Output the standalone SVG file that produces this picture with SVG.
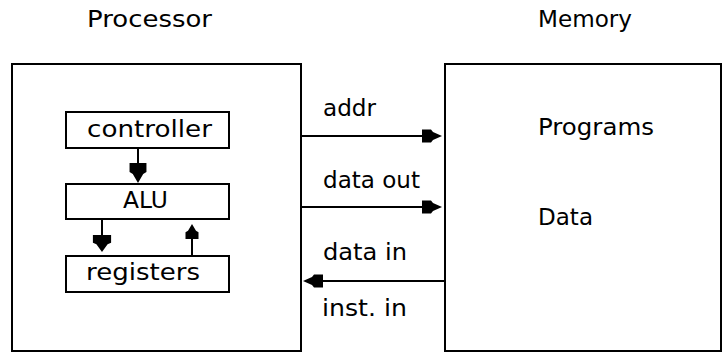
<svg xmlns="http://www.w3.org/2000/svg" width="722" height="353" viewBox="0 0 722 353">
<style>
.box{fill:none;stroke:#000;stroke-width:2}
.ln{fill:none;stroke:#000;stroke-width:2}
.hd{fill:#000;stroke:none}
text{font-family:"DejaVu Sans","Liberation Sans",sans-serif;font-size:23px;fill:#000}
</style>
<defs>
<path id="ah" d="M0,0 L-9,-4 L-11,-6.5 L-20,-6.5 L-20,6.5 L-11,6.5 L-9,4 Z"/>
</defs>
<rect width="722" height="353" fill="#fff"/>
<g id="processor">
<rect class="box" x="12" y="64" width="289" height="287"/>
<text x="87" y="27" textLength="125" lengthAdjust="spacingAndGlyphs">Processor</text>
</g>
<g id="memory">
<rect class="box" x="445" y="64" width="276" height="287"/>
<text x="538" y="27" textLength="94" lengthAdjust="spacingAndGlyphs">Memory</text>
<text x="538" y="135" textLength="116" lengthAdjust="spacingAndGlyphs">Programs</text>
<text x="538" y="225" textLength="55" lengthAdjust="spacingAndGlyphs">Data</text>
</g>
<g id="controller">
<rect class="box" x="66" y="112" width="163" height="36"/>
<text x="87" y="137" textLength="125" lengthAdjust="spacingAndGlyphs">controller</text>
</g>
<g id="alu">
<rect class="box" x="66" y="184" width="163" height="35"/>
<text x="123" y="208" textLength="45" lengthAdjust="spacingAndGlyphs">ALU</text>
</g>
<g id="registers">
<rect class="box" x="66" y="256" width="163" height="36"/>
<text x="86" y="280" textLength="114" lengthAdjust="spacingAndGlyphs">registers</text>
</g>
<g id="connectors">
<line class="ln" x1="138" y1="148" x2="138" y2="170"/>
<use href="#ah" class="hd" transform="translate(138,183) rotate(90) scale(1,1.3)"/>
<line class="ln" x1="102" y1="219" x2="102" y2="240"/>
<use href="#ah" class="hd" transform="translate(102,252) rotate(90) scale(0.85,1.4)"/>
<line class="ln" x1="192" y1="256" x2="192" y2="235"/>
<use href="#ah" class="hd" transform="translate(192,224) rotate(-90) scale(0.75,1)"/>
<line class="ln" x1="301" y1="136" x2="430" y2="136"/>
<use href="#ah" class="hd" transform="translate(442,136)"/>
<text x="323" y="116" textLength="53" lengthAdjust="spacingAndGlyphs">addr</text>
<line class="ln" x1="301" y1="207" x2="430" y2="207"/>
<use href="#ah" class="hd" transform="translate(442,207)"/>
<text x="323" y="188" textLength="97" lengthAdjust="spacingAndGlyphs">data out</text>
<line class="ln" x1="445" y1="281" x2="315" y2="281"/>
<use href="#ah" class="hd" transform="translate(303,281) rotate(180)"/>
<text x="323" y="260" textLength="84" lengthAdjust="spacingAndGlyphs">data in</text>
<text x="322" y="316" textLength="85" lengthAdjust="spacingAndGlyphs">inst. in</text>
</g>
</svg>
